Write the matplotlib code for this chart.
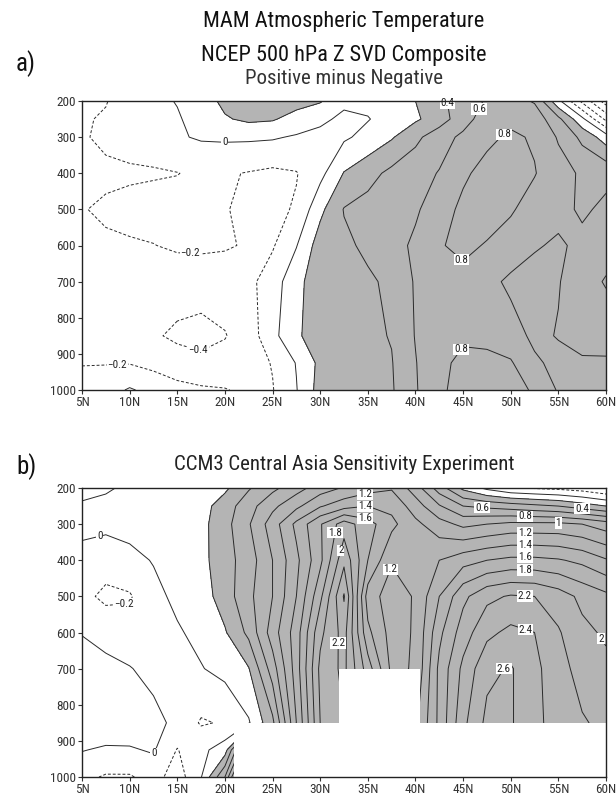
import numpy as np
import matplotlib
matplotlib.use('Agg')
import matplotlib.pyplot as plt
from matplotlib import font_manager


def pick_font(cands):
    for f in cands:
        try:
            font_manager.findfont(f, fallback_to_default=False)
            return f
        except Exception:
            pass
    return 'DejaVu Sans'


FONT = pick_font(['Liberation Sans Narrow', 'DejaVu Sans Condensed', 'Roboto Condensed', 'DejaVu Sans'])
plt.rcParams['font.family'] = [FONT, 'DejaVu Sans']

# ---------------- data ----------------
latitudes = [5, 7.5, 10, 12.5, 15, 17.5, 20, 22.5, 25, 27.5, 30, 32.5, 35,
             37.5, 40, 42.5, 45, 47.5, 50, 52.5, 55, 57.5, 60]
pressure_levels = [200, 250, 300, 400, 500, 600, 700, 850, 925, 1000]

lat_ticks = [5, 10, 15, 20, 25, 30, 35, 40, 45, 50, 55, 60]
lat_tick_labels = ['5N', '10N', '15N', '20N', '25N', '30N', '35N', '40N', '45N', '50N', '55N', '60N']
p_ticks = [200, 300, 400, 500, 600, 700, 800, 900, 1000]

# Panel a: NCEP composite (positive minus negative), one list per pressure level
a_200 = [-0.25, -0.21, -0.10, -0.05, 0.01, 0.10, 0.25, 0.30, 0.30, 0.28, 0.22, 0.03, 0.05, 0.10, 0.20, 0.35, 0.50, 0.62, 0.68, 0.58, 0.05, -0.45, -0.90]
a_250 = [-0.22, -0.18, -0.12, -0.08, -0.02, 0.08, 0.18, 0.24, 0.22, 0.12, 0.03, -0.03, -0.01, 0.08, 0.17, 0.30, 0.52, 0.70, 0.76, 0.72, 0.45, 0.05, -0.45]
a_300 = [-0.22, -0.16, -0.12, -0.10, -0.02, 0.02, 0.03, 0.03, 0.02, -0.02, -0.04, -0.03, 0.06, 0.18, 0.35, 0.52, 0.64, 0.76, 0.83, 0.78, 0.58, 0.35, 0.10]
a_400 = [-0.24, -0.24, -0.23, -0.22, -0.205, -0.16, -0.18, -0.21, -0.24, -0.21, -0.06, 0.21, 0.33, 0.45, 0.53, 0.61, 0.77, 0.86, 0.87, 0.81, 0.68, 0.57, 0.55]
a_500 = [-0.21, -0.17, -0.14, -0.12, -0.13, -0.15, -0.19, -0.24, -0.25, -0.18, 0.15, 0.41, 0.47, 0.53, 0.57, 0.72, 0.84, 0.86, 0.82, 0.72, 0.66, 0.57, 0.64]
a_600 = [-0.21, -0.23, -0.22, -0.205, -0.17, -0.16, -0.18, -0.22, -0.22, -0.01, 0.30, 0.36, 0.44, 0.52, 0.64, 0.79, 0.83, 0.79, 0.72, 0.62, 0.57, 0.65, 0.70]
a_700 = [-0.24, -0.27, -0.28, -0.30, -0.32, -0.33, -0.31, -0.25, -0.10, 0.14, 0.32, 0.35, 0.37, 0.44, 0.62, 0.72, 0.76, 0.66, 0.56, 0.52, 0.59, 0.70, 0.82]
a_850 = [-0.25, -0.27, -0.30, -0.38, -0.43, -0.45, -0.41, -0.30, -0.06, 0.17, 0.30, 0.33, 0.36, 0.41, 0.61, 0.74, 0.78, 0.76, 0.68, 0.56, 0.61, 0.68, 0.66]
a_925 = [-0.21, -0.21, -0.21, -0.26, -0.33, -0.36, -0.33, -0.28, -0.19, 0.01, 0.25, 0.30, 0.33, 0.39, 0.59, 0.77, 0.83, 0.84, 0.82, 0.63, 0.55, 0.57, 0.58]
a_1000 = [-0.12, -0.08, 0.02, -0.06, -0.13, -0.17, -0.19, -0.24, -0.21, -0.01, 0.28, 0.32, 0.35, 0.38, 0.58, 0.78, 0.84, 0.85, 0.86, 0.78, 0.58, 0.55, 0.56]

# Panel b: CCM3 sensitivity experiment
b_200 = [-0.05, -0.02, 0.03, 0.05, 0.04, 0.08, 0.16, 0.38, 0.55, 0.72, 0.90, 1.02, 1.12, 1.18, 0.90, 0.50, 0.15, -0.05, -0.18, -0.22, -0.25, -0.30, -0.40]
b_250 = [0.02, 0.04, 0.06, 0.07, 0.08, 0.12, 0.30, 0.52, 0.75, 0.95, 1.18, 1.32, 1.40, 1.35, 1.10, 0.82, 0.60, 0.55, 0.50, 0.45, 0.40, 0.30, 0.20]
b_300 = [0.05, 0.05, 0.06, 0.08, 0.10, 0.14, 0.33, 0.58, 0.90, 1.25, 1.58, 1.90, 1.68, 1.45, 1.25, 1.08, 0.95, 1.00, 1.05, 1.05, 1.05, 1.00, 0.90]
b_400 = [-0.06, -0.12, -0.05, 0.01, 0.06, 0.14, 0.32, 0.50, 0.80, 1.15, 1.55, 2.15, 1.60, 1.22, 1.30, 1.40, 1.52, 1.60, 1.65, 1.65, 1.62, 1.55, 1.42]
b_500 = [-0.15, -0.24, -0.22, -0.05, 0.04, 0.10, 0.30, 0.55, 0.80, 1.20, 1.75, 2.42, 1.30, 1.10, 1.22, 1.60, 1.95, 2.15, 2.22, 2.20, 2.10, 1.95, 1.85]
b_600 = [-0.01, -0.08, -0.12, -0.10, -0.02, 0.05, 0.18, 0.45, 0.90, 1.30, 1.95, 2.28, 1.45, 1.12, 1.22, 1.75, 2.10, 2.35, 2.45, 2.40, 2.22, 2.05, 1.97]
b_700 = [0.10, 0.06, 0.01, -0.06, -0.05, -0.01, 0.06, 0.19, 0.70, 1.30, 2.05, 2.25, 1.70, 1.15, 1.22, 1.85, 2.25, 2.55, 2.62, 2.45, 2.28, 2.12, 2.05]
b_850 = [0.12, 0.15, 0.12, 0.06, -0.05, -0.22, -0.18, -0.02, 0.35, 1.20, 2.00, 2.20, 1.80, 1.30, 1.35, 1.85, 2.35, 2.65, 2.62, 2.45, 2.32, 2.22, 2.15]
b_925 = [0.01, -0.03, -0.02, 0.02, -0.21, -0.05, 0.10, 1.20, 1.60, 1.90, 2.10, 2.20, 1.80, 1.30, 1.35, 1.85, 2.35, 2.65, 2.62, 2.45, 2.32, 2.22, 2.15]
b_1000 = [-0.15, -0.22, -0.22, -0.12, -0.30, -0.01, 0.60, 2.00, 2.10, 2.10, 2.20, 2.20, 1.80, 1.30, 1.35, 1.85, 2.35, 2.65, 2.62, 2.45, 2.32, 2.22, 2.15]

# terrain (below-ground area of the model), step edges and top pressure
terrain_lat_edges = [21, 32, 40.5, 60]
terrain_top_p = [850, 700, 850, 850]

levels_a = [-1.0, -0.8, -0.6, -0.4, -0.2, 0.0, 0.2, 0.4, 0.6, 0.8, 1.0]
levels_b = [-0.6, -0.4, -0.2, 0.0, 0.2, 0.4, 0.6, 0.8, 1.0, 1.2, 1.4, 1.6, 1.8,
            2.0, 2.2, 2.4, 2.6, 2.8, 3.0]
shade_threshold = 0.2

# label anchors (lat, hPa) for selected contour values
labels_a = {0.0: [(20, 310)], 0.4: [(44, 203)], 0.6: [(47.9, 239)],
            0.8: [(49.2, 289), (43.6, 677), (43.6, 865)],
            -0.2: [(16.3, 646), (8.7, 926)], -0.4: [(17, 905)]}
labels_b = {0.0: [(6.9, 339), (12.5, 934)], -0.2: [(9.5, 544)],
            0.4: [(57.5, 255)], 0.6: [(47.0, 256)], 0.8: [(51.5, 279)],
            1.0: [(55.0, 296)],
            1.2: [(34.7, 214), (51.5, 330), (37.5, 427)],
            1.4: [(34.7, 252), (51.5, 360)], 1.6: [(34.7, 286), (51.5, 394)],
            1.8: [(31.9, 325), (51.5, 430)], 2.0: [(32.1, 372), (59.7, 613)],
            2.2: [(31.9, 629), (51.5, 496)], 2.4: [(51.5, 596)], 2.6: [(48.7, 688)]}

GRAY = '#b4b4b4'
LINE = '#2a2a2a'
PX_PER_DEG = 9.53
PX_PER_HPA = 0.361


def fmt(v):
    s = ('%.1f' % v).rstrip('0').rstrip('.')
    if s in ('-0', ''):
        s = '0'
    return s.replace('-', '\u2212')


def nearest_on_lines(polys, x0, y0):
    best = None
    for poly in polys:
        if len(poly) < 2:
            continue
        P = np.asarray(poly)
        A = P[:-1]
        B = P[1:]
        ax_ = (A[:, 0] - x0) * PX_PER_DEG
        ay_ = (A[:, 1] - y0) * PX_PER_HPA
        dx = (B[:, 0] - A[:, 0]) * PX_PER_DEG
        dy = (B[:, 1] - A[:, 1]) * PX_PER_HPA
        L2 = dx * dx + dy * dy
        L2[L2 == 0] = 1e-12
        t = np.clip(-(ax_ * dx + ay_ * dy) / L2, 0, 1)
        qx = ax_ + t * dx
        qy = ay_ + t * dy
        d = qx * qx + qy * qy
        i = int(np.argmin(d))
        if best is None or d[i] < best[0]:
            best = (d[i], A[i, 0] + t[i] * (B[i, 0] - A[i, 0]),
                    A[i, 1] + t[i] * (B[i, 1] - A[i, 1]))
    return best


def draw_panel(ax, rows, levels, labels, terrain=False):
    Z = np.array(rows, dtype=float)
    X, Y = np.meshgrid(np.array(latitudes), np.array(pressure_levels))
    ax.contourf(X, Y, Z, levels=[shade_threshold, 100], colors=[GRAY], zorder=1)
    styles = [(0, (3.0, 2.0)) if l < -1e-9 else 'solid' for l in levels]
    cs = ax.contour(X, Y, Z, levels=levels, colors=LINE, linewidths=0.7,
                    linestyles=styles, zorder=2)
    if terrain:
        ax.fill_between(terrain_lat_edges, terrain_top_p, 1000, step='post',
                        color='white', linewidth=0, zorder=2.3)
    paths = cs.get_paths()
    cl = np.asarray(cs.levels, dtype=float)
    for lev, pts in labels.items():
        idx = np.where(np.isclose(cl, lev))[0]
        if len(idx) == 0:
            continue
        polys = paths[idx[0]].to_polygons(closed_only=False)
        for (x0, y0) in pts:
            res = nearest_on_lines(polys, x0, y0)
            if res is None:
                continue
            _, xl, yl = res
            ax.text(xl, yl, fmt(lev), ha='center', va='center', fontsize=8,
                    color='#222222', zorder=3,
                    bbox=dict(facecolor='white', edgecolor='none', pad=0.6))
    ax.set_xlim(5, 60)
    ax.set_ylim(1000, 200)
    ax.set_xticks(lat_ticks)
    ax.set_xticklabels(lat_tick_labels)
    ax.set_yticks(p_ticks)
    ax.set_yticklabels([str(p) for p in p_ticks])
    ax.tick_params(axis='both', labelsize=9.5, length=3, width=0.8,
                   direction='out', colors='#333333', pad=1.5)
    for sp in ax.spines.values():
        sp.set_linewidth(1.0)
        sp.set_color('#222222')
        sp.set_zorder(4)


fig = plt.figure(figsize=(6.16, 7.95), dpi=100)
W, H = 616.0, 795.0
L, R = 82 / W, 606 / W
ax_a = fig.add_axes([L, 1 - 390 / H, R - L, (390 - 101) / H])
ax_b = fig.add_axes([L, 1 - 777 / H, R - L, (777 - 488) / H])

draw_panel(ax_a, [a_200, a_250, a_300, a_400, a_500, a_600, a_700, a_850, a_925, a_1000],
           levels_a, labels_a)
draw_panel(ax_b, [b_200, b_250, b_300, b_400, b_500, b_600, b_700, b_850, b_925, b_1000],
           levels_b, labels_b, terrain=True)

cx = (L + R) / 2
fig.text(cx, 1 - 21 / H, 'MAM Atmospheric Temperature', ha='center', va='center', fontsize=16, color='#111111')
fig.text(cx, 1 - 55 / H, 'NCEP 500 hPa Z SVD Composite', ha='center', va='center', fontsize=16, color='#111111')
fig.text(cx, 1 - 79 / H, 'Positive minus Negative', ha='center', va='center', fontsize=15, color='#333333')
fig.text(26 / W, 1 - 64 / H, 'a)', ha='center', va='center', fontsize=18, color='#111111')
fig.text(cx, 1 - 465 / H, 'CCM3 Central Asia Sensitivity Experiment', ha='center', va='center', fontsize=15, color='#222222')
fig.text(26 / W, 1 - 467 / H, 'b)', ha='center', va='center', fontsize=18, color='#111111')

fig.savefig('out.png', dpi=100)
